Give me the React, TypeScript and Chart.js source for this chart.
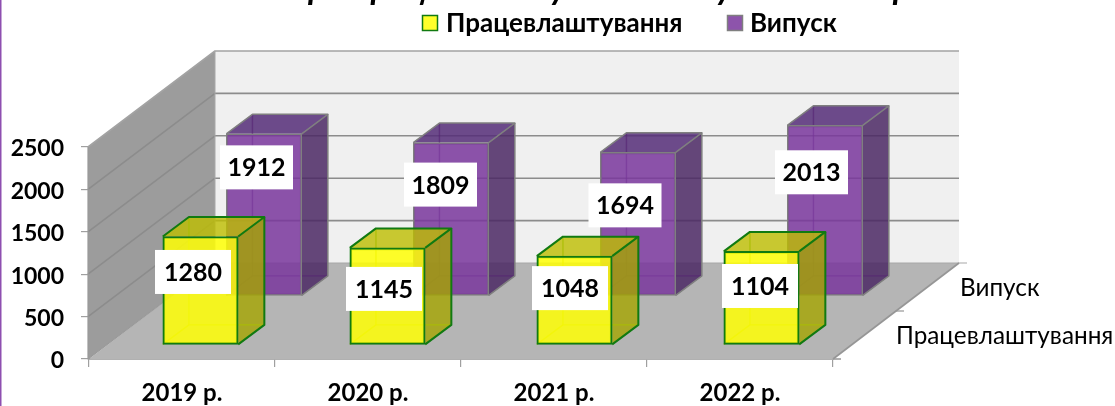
import React, { useEffect, useRef } from "react";
import { Chart, registerables } from "chart.js";

Chart.register(...registerables);

const categories = ["2019 р.", "2020 р.", "2021 р.", "2022 р."];
const employment = [1280, 1145, 1048, 1104];
const graduates = [1912, 1809, 1694, 2013];
const seriesNames = ["Працевлаштування", "Випуск"];
const yTicks = [0, 500, 1000, 1500, 2000, 2500];
// Only the descenders of the reference's title are visible; the wording is inferred from their spacing.
const titleText = "Звіт про працевлаштування випускників за роками";

const FONT = "Lato, 'Open Sans', sans-serif";
const DEPTH = { dx: 126, dy: -96 };
const BOX = { dx: 26, dy: -19.5 };
const STRETCH = 187 / 186;
const layers = [
  {
    dx: 18.5, dy: -14,
    side: "rgba(165,165,0,0.8)", top: "rgba(190,190,0,0.8)",
    edge: "#117a11", inner: "rgba(170,190,0,0.75)", edgeWidth: 2,
    labelOffsets: [[-7.5, 35.5], [-3.5, 41], [-4.5, 32], [-1.5, 34.6]],
    labelW: 76,
  },
  {
    dx: 82, dy: -63,
    side: "rgba(75,40,100,0.85)", top: "rgba(85,45,120,0.85)",
    edge: "#7f7f7f", inner: "rgba(85,35,115,0.6)", edgeWidth: 1.5,
    labelOffsets: [[-7.5, 33.5], [-10.5, 42], [-13, 53], [-13.5, 47]],
    labelW: 73,
  },
];
const legendSlots = [
  { box: 422, text: 446 },
  { box: 727, text: 750 },
];

function poly(ctx: CanvasRenderingContext2D, pts: number[][], fill?: string, stroke?: string, lw = 1.5) {
  ctx.beginPath();
  pts.forEach((p, i) => (i ? ctx.lineTo(p[0], p[1]) : ctx.moveTo(p[0], p[1])));
  if (fill) {
    ctx.closePath();
    ctx.fillStyle = fill;
    ctx.fill();
  }
  if (stroke) {
    ctx.strokeStyle = stroke;
    ctx.lineWidth = lw;
    ctx.lineJoin = "round";
    ctx.stroke();
  }
}

function applyLayer(chart: any, ctx: CanvasRenderingContext2D, index: number) {
  const l = layers[index];
  const cx = chart.scales.x.getPixelForValue(0);
  ctx.translate(cx + l.dx, l.dy);
  ctx.scale(STRETCH, 1);
  ctx.translate(-cx, 0);
}

const scenePlugin = {
  id: "scene",
  beforeDatasetsDraw(chart: any) {
    const { ctx, scales } = chart;
    const { x, y } = scales;
    const l = x.left, r = x.right, b = y.bottom, t = y.top;
    const { dx, dy } = DEPTH;
    const wallGrey = "#9c9c9c";
    ctx.save();
    poly(ctx, [[l + dx, t + dy], [r + dx, t + dy], [r + dx, b + dy], [l + dx, b + dy]], "#f0f0f0");
    poly(ctx, [[l - 1, t], [l + dx, t + dy], [l + dx, b + dy], [l - 1, b]], wallGrey);
    poly(ctx, [[l, b], [r, b], [r + dx, b + dy], [l + dx, b + dy]], "#b5b5b5");
    yTicks.forEach((v) => {
      const py = y.getPixelForValue(v);
      if (v > 0) {
        poly(ctx, [[l - 1, py], [l + dx, py + dy], [r + dx, py + dy]], undefined, v === 2500 ? "#a3a3a3" : "#8c8c8c", 1.6);
      }
    });
    poly(ctx, [[l - 1, t], [l - 1, b], [l + dx, b + dy]], undefined, "#9a9a9a", 1.2);
    poly(ctx, [[l + dx, t + dy], [l + dx, b + dy]], undefined, "#a8a8a8", 1);
    poly(ctx, [[l + dx, b + dy], [r + dx + 8, b + dy]], undefined, "#a8a8a8", 1.2);
    poly(ctx, [[r, b], [r + dx, b + dy]], undefined, "#969696", 1.6);
    poly(ctx, [[r, b], [r + 8, b]], undefined, "#969696", 1.5);
    poly(ctx, [[r + dx / 2, b + dy / 2], [r + dx / 2 + 8, b + dy / 2]], undefined, "#969696", 1.2);
    ctx.restore();
  },
  beforeDatasetDraw(chart: any, args: any) {
    const { ctx } = chart;
    const i = args.index;
    const st = layers[i];
    ctx.save();
    applyLayer(chart, ctx, i);
    chart.getDatasetMeta(i).data.forEach((el: any) => {
      const x0 = el.x - el.width / 2, x1 = el.x + el.width / 2;
      const top = el.y, base = el.base;
      const { dx, dy } = BOX;
      poly(ctx, [[x1, top], [x1 + dx, top + dy], [x1 + dx, base + dy], [x1, base]], st.side);
      poly(ctx, [[x0, top], [x0 + dx, top + dy], [x1 + dx, top + dy], [x1, top]], st.top);
      poly(ctx, [[x0 + dx, top + dy], [x0 + dx, base + dy], [x1 + dx, base + dy]], undefined, st.inner, 1.4);
      poly(ctx, [[x0, base], [x0 + dx, base + dy]], undefined, st.inner, 1.4);
    });
  },
  afterDatasetDraw(chart: any, args: any) {
    const { ctx } = chart;
    const i = args.index;
    const st = layers[i];
    chart.getDatasetMeta(i).data.forEach((el: any) => {
      const x0 = el.x - el.width / 2, x1 = el.x + el.width / 2;
      const top = el.y, base = el.base;
      const { dx, dy } = BOX;
      poly(ctx, [[x0, top], [x0 + dx, top + dy], [x1 + dx, top + dy], [x1, top]], undefined, st.edge, st.edgeWidth);
      poly(ctx, [[x1 + dx, top + dy], [x1 + dx, base + dy], [x1, base]], undefined, st.edge, st.edgeWidth);
    });
    ctx.restore();
  },
  afterDatasetsDraw(chart: any) {
    const { ctx, scales } = chart;
    const cx = scales.x.getPixelForValue(0);
    ctx.save();
    ctx.textAlign = "center";
    ctx.textBaseline = "middle";
    [1, 0].forEach((i) => {
      const st = layers[i];
      chart.getDatasetMeta(i).data.forEach((el: any, k: number) => {
        const px = (el.x - cx) * STRETCH + cx + st.dx + st.labelOffsets[k][0];
        const py = el.y + st.dy + st.labelOffsets[k][1];
        ctx.fillStyle = "#ffffff";
        ctx.fillRect(px - st.labelW / 2, py - 22, st.labelW, 44);
        ctx.fillStyle = "#000000";
        ctx.font = `bold 25px ${FONT}`;
        ctx.fillText(String(chart.data.datasets[i].data[k]), px, py + 1);
      });
    });
    // depth-axis labels, from the series names
    const { x, y } = scales;
    ctx.textAlign = "left";
    ctx.fillStyle = "#000000";
    ctx.font = `24.3px ${FONT}`;
    ctx.fillText(seriesNames[1], x.right + 127, y.bottom - 71);
    ctx.fillText(seriesNames[0], x.right + 63, y.bottom - 23);
    // legend
    ctx.font = `bold 26px ${FONT}`;
    chart.data.datasets.forEach((ds: any, i: number) => {
      const slot = legendSlots[i];
      ctx.fillStyle = "#ffffff";
      ctx.fillRect(slot.box, 15, 16, 16);
      ctx.fillStyle = ds.backgroundColor;
      ctx.fillRect(slot.box, 15, 16, 16);
      ctx.strokeStyle = ds.borderColor;
      ctx.lineWidth = 1.5;
      ctx.strokeRect(slot.box + 0.5, 15.5, 15, 15);
      ctx.fillStyle = "#000000";
      ctx.fillText(ds.label, slot.text, 24);
    });
    // title, cut off by the top edge of the picture
    ctx.textAlign = "left";
    ctx.textBaseline = "alphabetic";
    ctx.font = `italic bold 34.3px ${FONT}`;
    ctx.fillText(titleText, 308 - ctx.measureText("Звіт п").width, -1.5);
    // page-edge rule
    ctx.fillStyle = "#8e4fb0";
    ctx.fillRect(0, 0, 1.5, 406);
    ctx.restore();
  },
};

export default function App() {
  const ref = useRef<HTMLCanvasElement>(null);
  useEffect(() => {
    const chart = new Chart(ref.current as HTMLCanvasElement, {
      type: "bar",
      data: {
        labels: categories,
        datasets: [
          {
            label: seriesNames[0],
            data: employment,
            backgroundColor: "rgba(255,255,5,0.85)",
            borderColor: "#117a11",
            borderWidth: 2,
            borderSkipped: false,
            barThickness: 75,
            grouped: false,
            clip: false,
          },
          {
            label: seriesNames[1],
            data: graduates,
            backgroundColor: "rgba(121,54,156,0.85)",
            borderColor: "#7f7f7f",
            borderWidth: 1.5,
            borderSkipped: false,
            barThickness: 75,
            grouped: false,
            clip: false,
          },
        ] as any,
      },
      plugins: [scenePlugin],
      options: {
        animation: false,
        responsive: false,
        layout: { autoPadding: false, padding: { top: 147, right: 282, left: 0, bottom: 0 } },
        plugins: {
          title: { display: false },
          tooltip: { enabled: false },
          legend: { display: false },
        },
        scales: {
          x: {
            type: "category",
            afterFit: (s: any) => { s.height = 47; },
            border: { color: "#969696", width: 1.8 },
            grid: { drawOnChartArea: false, offset: true, tickLength: 8, color: "#a0a0a0", lineWidth: 1.2 },
            ticks: { color: "#000000", padding: 12, maxRotation: 0, font: { family: FONT, size: 24, weight: "bold" } },
          },
          y: {
            type: "linear",
            min: 0,
            max: 2500,
            afterFit: (s: any) => { s.width = 89; },
            border: { display: false },
            grid: { drawOnChartArea: false, tickLength: 8, color: "#a0a0a0", lineWidth: 1.2 },
            ticks: {
              color: "#000000",
              padding: 17,
              stepSize: 500,
              autoSkip: false,
              labelOffset: 2,
              callback: (v: any) => String(v),
              font: { family: FONT, size: 23, weight: "bold" },
            },
          },
        },
      } as any,
    });
    return () => chart.destroy();
  }, []);
  return (
    <div style={{ position: "fixed", left: 0, top: 0, width: 1115, height: 406, background: "#fff" }}>
      <canvas ref={ref} width={1115} height={406} style={{ display: "block" }} />
    </div>
  );
}
